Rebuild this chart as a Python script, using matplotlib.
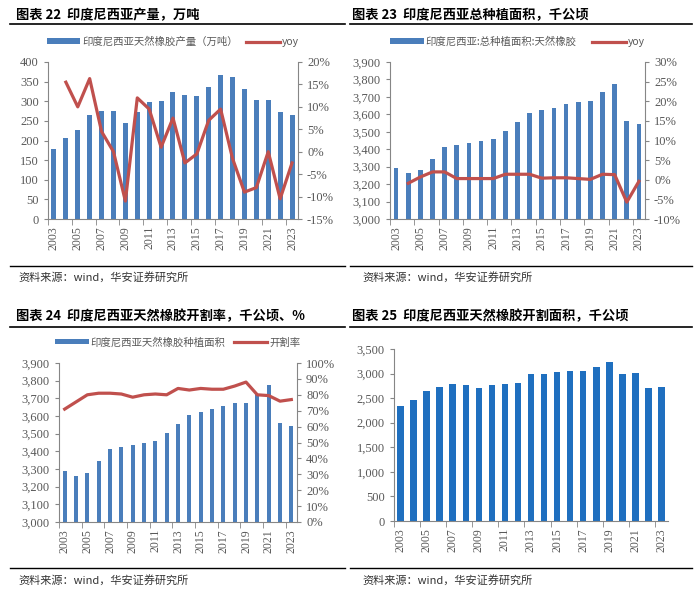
import numpy as np
import matplotlib
matplotlib.use("Agg")
import matplotlib.pyplot as plt
from matplotlib.lines import Line2D
from matplotlib.ticker import FuncFormatter

plt.rcParams['font.family'] = ['Liberation Serif', 'Noto Sans CJK SC', 'DejaVu Sans']

years = [str(y) for y in range(2003, 2024)]

# 印度尼西亚天然橡胶产量（万吨）
production = [178, 206, 227, 264, 276, 275, 244, 273, 299, 301, 324,
              315, 314, 336, 368, 363, 330, 304, 304, 272, 265]
production_yoy = [np.nan, 15.5, 10.0, 16.3, 4.5, 0.0, -11.0, 12.0, 9.5, 1.0, 7.5,
                  -2.5, -0.5, 7.0, 9.5, -1.5, -9.0, -8.0, 0.0, -10.5, -2.5]

# 总种植面积（千公顷）
planted = [3290, 3262, 3279, 3346, 3414, 3424, 3435, 3445, 3456, 3506, 3556,
           3606, 3622, 3639, 3659, 3671, 3676, 3726, 3776, 3559, 3545]
planted_yoy = [np.nan, -0.9, 0.7, 2.0, 2.0, 0.3, 0.3, 0.3, 0.3, 1.4, 1.4,
               1.4, 0.4, 0.5, 0.5, 0.3, 0.1, 1.4, 1.3, -5.7, -0.4]

# 开割率（%）
tap_rate = [71.0, 75.5, 80.0, 81.0, 81.0, 80.5, 78.5, 80.0, 80.5, 80.0, 84.0,
            83.0, 84.0, 83.5, 83.5, 85.5, 88.0, 80.0, 79.5, 76.0, 77.0]

# 开割面积（千公顷）
tapped = [2350, 2460, 2640, 2730, 2780, 2770, 2710, 2775, 2795, 2810, 2995,
          2995, 3040, 3045, 3060, 3130, 3230, 2990, 3005, 2700, 2720]

BAR = '#4a7ebb'
BAR2 = '#1f6fbf'
RED = '#c0504d'
GREY = '#595959'
SPINE = '#868686'
CJK = ['Noto Sans CJK SC', 'DejaVu Sans']

fig = plt.figure(figsize=(7.0, 5.94), dpi=100)
W, H = 700.0, 594.0


def fx(px):
    return px / W


def fy(py):
    return 1 - py / H


def hline(x0, x1, y, lw=1.2):
    fig.add_artist(Line2D([fx(x0), fx(x1)], [fy(y), fy(y)], color='black', lw=lw,
                          transform=fig.transFigure))


def header(x, y, xl0, xl1, yl, text):
    fig.text(fx(x), fy(y), text, fontsize=9.5, fontweight='bold', family=CJK,
             va='center', ha='left', color='black')
    hline(xl0, xl1, yl)


def footer(x, y, xl0, xl1, yl):
    hline(xl0, xl1, yl, lw=1.0)
    fig.text(fx(x), fy(y), '资料来源：wind，华安证券研究所', fontsize=8, family=CJK,
             va='center', ha='left', color='#333333')


def style_x(ax):
    n = len(years)
    ax.set_xlim(-0.5, n - 0.5)
    ax.set_xticks(range(0, n, 2))
    ax.set_xticklabels(years[::2], rotation=90, fontsize=8.5, color=GREY)
    ax.set_xticks(np.arange(-0.5, n, 2), minor=True)
    ax.tick_params(axis='x', which='major', length=0, pad=5)
    ax.tick_params(axis='x', which='minor', length=4, color=SPINE, direction='out')
    ax.tick_params(axis='y', length=3, color=SPINE, labelsize=9, labelcolor=GREY)
    for s in ['left', 'bottom', 'right']:
        ax.spines[s].set_color(SPINE)
    ax.spines['top'].set_visible(False)


def style_right(axr):
    axr.yaxis.set_major_formatter(pct)
    axr.tick_params(axis='y', length=3, color=SPINE, labelsize=9, labelcolor=GREY)
    for s in ['left', 'bottom', 'top']:
        axr.spines[s].set_visible(False)
    axr.spines['right'].set_color(SPINE)


def add_legend(ax, handles, labels, spacing):
    leg = ax.legend(handles, labels, loc='center', bbox_to_anchor=(0.5, 1.13), ncol=2,
                    frameon=False, handlelength=3.2, handleheight=0.4,
                    columnspacing=spacing, handletextpad=0.2,
                    prop={'family': CJK, 'size': 7.5})
    for t in leg.get_texts():
        t.set_color(GREY)


comma = FuncFormatter(lambda v, p: f'{int(v):,}')
pct = FuncFormatter(lambda v, p: f'{int(round(v))}%')
x = np.arange(len(years))

# ---------- 图表22 ----------
header(16, 15, 10, 345, 24, '图表 22  印度尼西亚产量，万吨')
ax1 = fig.add_axes([fx(48), fy(219), fx(298) - fx(48), fy(62) - fy(219)])
b1 = ax1.bar(x, production, width=0.42, color=BAR)
ax1.set_ylim(0, 400)
ax1.set_yticks(range(0, 401, 50))
style_x(ax1)
ax1.spines['right'].set_visible(False)
ax1r = ax1.twinx()
l1, = ax1r.plot(x, production_yoy, color=RED, lw=2.3)
ax1r.set_ylim(-15, 20)
ax1r.set_yticks(range(-15, 21, 5))
style_right(ax1r)
add_legend(ax1, [b1, l1], ['印度尼西亚天然橡胶产量（万吨）', 'yoy'], 0.8)
footer(18, 277, 10, 345, 266)

# ---------- 图表23 ----------
header(352, 15, 350, 692, 24, '图表 23  印度尼西亚总种植面积，千公顷')
ax2 = fig.add_axes([fx(390), fy(219), fx(645) - fx(390), fy(62) - fy(219)])
b2 = ax2.bar(x, planted, width=0.38, color=BAR)
ax2.set_ylim(3000, 3900)
ax2.set_yticks(range(3000, 3901, 100))
ax2.yaxis.set_major_formatter(comma)
style_x(ax2)
ax2.spines['right'].set_visible(False)
ax2r = ax2.twinx()
l2, = ax2r.plot(x, planted_yoy, color=RED, lw=2.3)
ax2r.set_ylim(-10, 30)
ax2r.set_yticks(range(-10, 31, 5))
style_right(ax2r)
add_legend(ax2, [b2, l2], ['印度尼西亚:总种植面积:天然橡胶', 'yoy'], 1.5)
footer(362, 277, 350, 692, 266)

# ---------- 图表24 ----------
header(16, 316, 10, 345, 327, '图表 24  印度尼西亚天然橡胶开割率，千公顷、%')
ax3 = fig.add_axes([fx(59), fy(522), fx(297) - fx(59), fy(363) - fy(522)])
b3 = ax3.bar(x, planted, width=0.38, color=BAR)
ax3.set_ylim(3000, 3900)
ax3.set_yticks(range(3000, 3901, 100))
ax3.yaxis.set_major_formatter(comma)
style_x(ax3)
ax3.spines['right'].set_visible(False)
ax3r = ax3.twinx()
l3, = ax3r.plot(x, tap_rate, color=RED, lw=2.3)
ax3r.set_ylim(0, 100)
ax3r.set_yticks(range(0, 101, 10))
style_right(ax3r)
add_legend(ax3, [b3, l3], ['印度尼西亚天然橡胶种植面积', '开割率'], 0.8)
footer(18, 580, 10, 345, 568)

# ---------- 图表25 ----------
header(352, 316, 350, 692, 327, '图表 25  印度尼西亚天然橡胶开割面积，千公顷')
ax4 = fig.add_axes([fx(394), fy(521), fx(668) - fx(394), fy(349) - fy(521)])
ax4.bar(x, tapped, width=0.5, color=BAR2)
ax4.set_ylim(0, 3500)
ax4.set_yticks(range(0, 3501, 500))
ax4.yaxis.set_major_formatter(comma)
style_x(ax4)
ax4.spines['right'].set_visible(False)
footer(362, 580, 350, 692, 568)

fig.savefig('out.png', dpi=100)
